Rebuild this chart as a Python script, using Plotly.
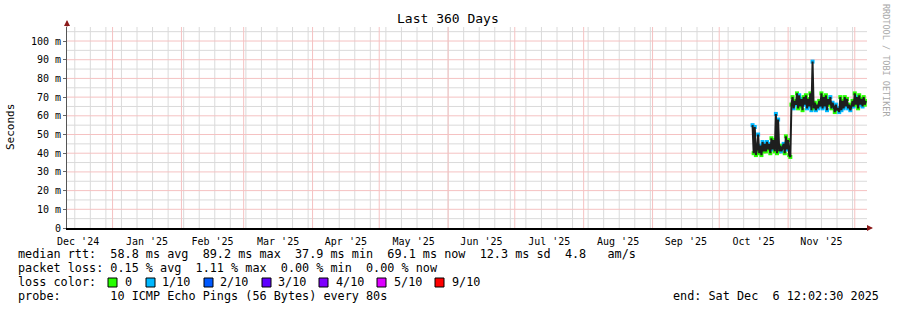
import pandas as pd
import plotly.graph_objects as go

# ---------------- data ----------------
range_start = "2024-12-11 12:02:30"
range_end = "2025-12-06 12:02:30"

series_start = "2025-10-16 00:00"
series_step = "12h"

# median rtt in milliseconds, one value every 12 hours
rtt_ms = [
    55, 40, 54, 39, 42, 50, 40, 44, 39, 46, 41, 45, 41, 46, 42, 45, 40,
    48, 42, 47, 41, 61, 40, 58, 41, 44, 41, 43, 45, 40, 49, 42, 47, 39, 38,
    66, 70, 64, 68, 66, 72, 64, 71, 65, 69, 63, 70, 66,
    71, 64, 69, 65, 72, 63,
    89, 64,
    67, 63, 66, 64, 68, 65,
    72, 64, 70, 65, 71, 63, 69,
    66, 70, 64, 67,
    65, 62, 66, 63, 64, 62,
    70, 63, 68, 64, 70, 65, 69,
    64, 66, 63, 65,
    68, 65, 72, 66, 70, 64, 71, 66, 69, 65, 70, 66, 68,
]
# packet loss (tenths) for each sample
loss_tenths = [
    1, 0, 1, 0, 0, 1, 0, 1, 0, 1, 0, 1, 0, 1, 0, 1, 0,
    0, 1, 0, 0, 1, 0, 1, 0, 0, 1, 0, 1, 0, 0, 1, 0, 0, 0,
    0, 0, 1, 0, 1, 0, 0, 1, 0, 1, 0, 0, 1,
    0, 1, 0, 1, 0, 1,
    1, 0,
    0, 1, 0, 1, 0, 1,
    0, 1, 0, 1, 0, 1, 0,
    0, 1, 0, 1,
    1, 0, 1, 0, 1, 1,
    0, 1, 0, 1, 0, 1, 0,
    1, 0, 1, 0,
    0, 1, 0, 0, 1, 0, 0, 1, 0, 1, 0, 0, 0,
]

loss_labels = ["0", "1/10", "2/10", "3/10", "4/10", "5/10", "9/10"]
loss_colors = ["#26ff00", "#00b8ff", "#0059ff", "#5e00ff", "#7e00ff", "#dd00ff", "#ff0000"]

y_tick_vals = [0, 10, 20, 30, 40, 50, 60, 70, 80, 90, 100]
y_tick_text = ["0", "10 m", "20 m", "30 m", "40 m", "50 m", "60 m", "70 m", "80 m", "90 m", "100 m"]
y_minor_vals = [5, 15, 25, 35, 45, 55, 65, 75, 85, 95, 105]

month_starts = ["2024-12-01", "2025-01-01", "2025-02-01", "2025-03-01", "2025-04-01",
                "2025-05-01", "2025-06-01", "2025-07-01", "2025-08-01", "2025-09-01",
                "2025-10-01", "2025-11-01", "2025-12-01", "2026-01-01"]
month_labels = ["Dec '24", "Jan '25", "Feb '25", "Mar '25", "Apr '25", "May '25",
                "Jun '25", "Jul '25", "Aug '25", "Sep '25", "Oct '25", "Nov '25"]
first_week_line = "2024-12-15"

title_text = "Last 360 Days"
y_title = "Seconds"
legend_lines = [
    "median rtt:  58.8 ms avg  89.2 ms max  37.9 ms min  69.1 ms now  12.3 ms sd  4.8   am/s",
    "packet loss: 0.15 % avg  1.11 % max  0.00 % min  0.00 % now",
]
loss_title = "loss color:"
probe_text = "probe:       10 ICMP Echo Pings (56 Bytes) every 80s"
end_text = "end: Sat Dec  6 12:02:30 2025"
side_text = "RRDTOOL / TOBI OETIKER"

# ---------------- layout geometry ----------------
W, H = 897, 310
ML, MR, MT, MB = 67, 30, 27, 82
PW = W - ML - MR
PH = H - MT - MB
MONO = "DejaVu Sans Mono"
Y_MAX = 107.5


def px_x(px):
    return (px - ML) / PW


def px_y(py):
    return (H - MB - py) / PH


def nb(s):
    return s.replace(" ", "\u00a0")


def dstr(ts):
    return pd.Timestamp(ts).strftime("%Y-%m-%d %H:%M:%S")


times = [dstr(t) for t in pd.date_range(series_start, periods=len(rtt_ms), freq=series_step)]
ms = pd.to_datetime(month_starts)
month_mid = [dstr(ms[i] + (ms[i + 1] - ms[i]) / 2) for i in range(len(ms) - 2)]
grid_months = [dstr(m) for m in ms if pd.Timestamp(range_start) <= m <= pd.Timestamp(range_end)]
weeks = [dstr(w) for w in pd.date_range(first_week_line, range_end, freq="7D")]

fig = go.Figure()
# loss-coloured median marks (drawn first, line on top leaves coloured tips)
fig.add_trace(go.Scatter(
    x=times, y=rtt_ms, mode="markers",
    marker=dict(symbol="square", size=4, color=[loss_colors[l] for l in loss_tenths],
                line=dict(width=0)),
    hoverinfo="skip", showlegend=False,
))
fig.add_trace(go.Scatter(
    x=times, y=rtt_ms, mode="lines",
    line=dict(color="#1e1e1e", width=2),
    hoverinfo="skip", showlegend=False,
))

grid_red = "#f5c2c2"
grid_gray = "#dadada"

shapes = []
# grid lines, placed through the axes' own scales
for w in weeks:
    shapes.append(dict(type="line", layer="below", xref="x", yref="paper", x0=w, x1=w,
                       y0=0, y1=1, line=dict(color=grid_gray, width=1)))
for v in y_minor_vals:
    shapes.append(dict(type="line", layer="below", xref="paper", yref="y", x0=0, x1=1,
                       y0=v, y1=v, line=dict(color=grid_gray, width=1)))
for m in grid_months:
    shapes.append(dict(type="line", layer="below", xref="x", yref="paper", x0=m, x1=m,
                       y0=0, y1=1, line=dict(color=grid_red, width=1)))
for v in y_tick_vals[1:]:
    shapes.append(dict(type="line", layer="below", xref="paper", yref="y", x0=0, x1=1,
                       y0=v, y1=v, line=dict(color=grid_red, width=1)))

fig.update_layout(
    width=W, height=H,
    margin=dict(l=ML, r=MR, t=MT, b=MB, pad=0),
    paper_bgcolor="white", plot_bgcolor="white",
    font=dict(family=MONO, size=10, color="#000"),
    xaxis=dict(
        type="date", range=[range_start, range_end],
        tickmode="array", tickvals=month_mid, ticktext=month_labels,
        showgrid=False, ticks="", ticklabelstandoff=3,
        tickfont=dict(family=MONO, size=10, color="#000"),
        showline=True, linecolor="#000", linewidth=1.5, zeroline=False,
    ),
    yaxis=dict(
        range=[0, Y_MAX], tickmode="array", tickvals=y_tick_vals, ticktext=y_tick_text,
        showgrid=False, ticks="outside", ticklen=3, tickcolor="#666",
        showline=True, linecolor="#555", linewidth=1, zeroline=False,
        tickfont=dict(family=MONO, size=10, color="#000"),
    ),
)

ann = []
ann.append(dict(text=title_text, xref="paper", yref="paper", x=px_x(448), y=px_y(19),
                xanchor="center", yanchor="middle", showarrow=False,
                font=dict(family=MONO, size=13, color="#000")))
ann.append(dict(text=y_title, xref="paper", yref="paper", x=px_x(11), y=px_y(127),
                xanchor="center", yanchor="middle", textangle=-90, showarrow=False,
                font=dict(family=MONO, size=11, color="#000")))
ann.append(dict(text=nb(side_text), xref="paper", yref="paper", x=px_x(886), y=px_y(60),
                xanchor="center", yanchor="middle", textangle=90, showarrow=False,
                font=dict(family=MONO, size=8.5, color="#a8a8a8")))
legend_ys = [254, 268]
for line, yy in zip(legend_lines, legend_ys):
    ann.append(dict(text=nb(line), xref="paper", yref="paper", x=px_x(16), y=px_y(yy),
                    xanchor="left", yanchor="middle", showarrow=False,
                    font=dict(family=MONO, size=11.8, color="#000")))
ann.append(dict(text=nb(loss_title), xref="paper", yref="paper", x=px_x(16), y=px_y(282),
                xanchor="left", yanchor="middle", showarrow=False,
                font=dict(family=MONO, size=11.8, color="#000")))
box_x = [108, 146, 204, 262, 319, 377, 435]
label_x = [123, 160, 218, 276, 334, 392, 450]
for bx, lx, lab, col in zip(box_x, label_x, loss_labels, loss_colors):
    shapes.append(dict(type="rect", xref="paper", yref="paper",
                       x0=px_x(bx), x1=px_x(bx + 9), y0=px_y(287), y1=px_y(278),
                       fillcolor=col, line=dict(color="#000", width=1)))
    ann.append(dict(text=lab, xref="paper", yref="paper", x=px_x(lx), y=px_y(282),
                    xanchor="left", yanchor="middle", showarrow=False,
                    font=dict(family=MONO, size=11.8, color="#000")))
ann.append(dict(text=nb(probe_text), xref="paper", yref="paper", x=px_x(16), y=px_y(296),
                xanchor="left", yanchor="middle", showarrow=False,
                font=dict(family=MONO, size=11.8, color="#000")))
ann.append(dict(text=nb(end_text), xref="paper", yref="paper", x=px_x(881), y=px_y(296),
                xanchor="right", yanchor="middle", showarrow=False,
                font=dict(family=MONO, size=11.8, color="#000")))
# axis arrows
ann.append(dict(text="", xref="paper", yref="paper", x=px_x(873), y=px_y(228),
                ax=-7, ay=0, showarrow=True, arrowhead=2, arrowsize=1, arrowwidth=1.2,
                arrowcolor="#8b1a1a"))
ann.append(dict(text="", xref="paper", yref="paper", x=px_x(67), y=px_y(20),
                ax=0, ay=8, showarrow=True, arrowhead=2, arrowsize=1, arrowwidth=1.2,
                arrowcolor="#8b1a1a"))
fig.update_layout(annotations=ann, shapes=shapes)

fig.write_html("out.html")
